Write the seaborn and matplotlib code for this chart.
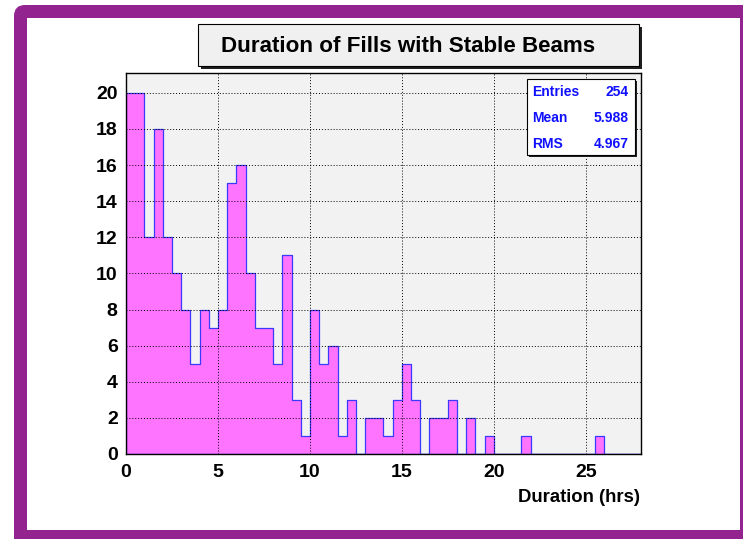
import numpy as np
import pandas as pd
import matplotlib
matplotlib.use("Agg")
import matplotlib.pyplot as plt
import seaborn as sns
from matplotlib.patches import FancyBboxPatch, Rectangle
from matplotlib.ticker import MultipleLocator
from matplotlib.transforms import IdentityTransform

# ---- data ----
bin_width = 0.5
x_max = 28
counts = [20, 20, 12, 18, 12, 10, 8, 5, 8, 7,
          8, 15, 16, 10, 7, 7, 5, 11, 3, 1,
          8, 5, 6, 1, 3, 0, 2, 2, 1, 3,
          5, 3, 0, 2, 2, 3, 0, 2, 0, 1,
          0, 0, 0, 1, 0, 0, 0, 0, 0, 0,
          0, 1, 0, 0, 0, 0]
stat_names = ["Entries", "Mean", "RMS"]
stat_values = ["254", "5.988", "4.967"]
title = "Duration of Fills with Stable Beams"
xlabel = "Duration (hrs)"
x_ticks = [0, 5, 10, 15, 20, 25]
y_ticks = [0, 2, 4, 6, 8, 10, 12, 14, 16, 18, 20]

centers = [bin_width * i + bin_width / 2 for i in range(len(counts))]
df = pd.DataFrame({"duration": centers, "count": counts})

W, H = 743, 539

sns.set_theme(style="white")
plt.rcParams['font.family'] = ['Liberation Sans', 'DejaVu Sans']
plt.rcParams['font.weight'] = 'bold'

fig = plt.figure(figsize=(W / 100, H / 100), dpi=100)
fig.patch.set_facecolor("white")


def fx(x):
    return x / W


def fy(y):
    return 1 - y / H


# purple frame: filled rounded shape with white inner panel
outer = FancyBboxPatch((14, H - 570), 780, 565,
                       boxstyle="round,pad=0,rounding_size=11",
                       transform=IdentityTransform(), facecolor="#93238f",
                       edgecolor="none", zorder=0)
fig.add_artist(outer)
inner = Rectangle((27, H - 530), 740 - 27, 530 - 18,
                  transform=IdentityTransform(), facecolor="white",
                  edgecolor="none", zorder=0.5)
fig.add_artist(inner)

ax = fig.add_axes([fx(126), fy(454), fx(641) - fx(126), fy(73) - fy(454)])
ax.set_facecolor("#f2f2f2")
ax.set_zorder(2)

sns.histplot(data=df, x="duration", weights="count",
             binwidth=bin_width, binrange=(0, x_max),
             element="step", fill=True, color="#ff74ff",
             facecolor="#ff74ff", edgecolor="#3a3aff", linewidth=0.9,
             alpha=1, ax=ax)

ax.set_xlim(0, x_max)
ax.set_ylim(0, 21.1)
ax.set_xlabel("")
ax.set_ylabel("")
ax.set_xticks(x_ticks)
ax.set_yticks(y_ticks)
ax.xaxis.set_minor_locator(MultipleLocator(1))
ax.yaxis.set_minor_locator(MultipleLocator(0.4))
ax.tick_params(axis="both", which="both", direction="in", top=False, right=False,
               color="black", labelsize=14, labelcolor="black")
ax.tick_params(axis="x", which="major", length=9, width=1, pad=7)
ax.tick_params(axis="x", which="minor", length=5, width=1)
ax.tick_params(axis="y", which="major", length=11, width=1, pad=6)
ax.tick_params(axis="y", which="minor", length=6, width=1)
for lab in ax.get_xticklabels() + ax.get_yticklabels():
    lab.set_fontweight("bold")

ax.set_axisbelow(False)
ax.grid(True, which="major", linestyle=(0, (1, 2)), color="black", linewidth=0.7)
for s in ax.spines.values():
    s.set_color("black")
    s.set_linewidth(1.0)
    s.set_zorder(5)

# title box with shadow
tx0, ty0, tx1, ty1 = 198, 24, 639, 66
fig.add_artist(Rectangle((fx(tx0 + 3), fy(ty1 + 3)), fx(tx1 - tx0), fy(ty0) - fy(ty1),
                         transform=fig.transFigure, facecolor="#202020", edgecolor="none",
                         zorder=3))
fig.add_artist(Rectangle((fx(tx0), fy(ty1)), fx(tx1 - tx0), fy(ty0) - fy(ty1),
                         transform=fig.transFigure, facecolor="#f0f0f0",
                         edgecolor="black", linewidth=0.8, zorder=3.1))
fig.text(fx(408), fy(46), title, ha="center", va="center",
         fontsize=16.1, fontweight="bold", color="black", zorder=3.2)

# stats box with shadow
sx0, sy0, sx1, sy1 = 527, 79, 635, 155
fig.add_artist(Rectangle((fx(sx0 + 2), fy(sy1 + 2)), fx(sx1 - sx0), fy(sy0) - fy(sy1),
                         transform=fig.transFigure, facecolor="#202020", edgecolor="none",
                         zorder=10))
fig.add_artist(Rectangle((fx(sx0), fy(sy1)), fx(sx1 - sx0), fy(sy0) - fy(sy1),
                         transform=fig.transFigure, facecolor="white",
                         edgecolor="black", linewidth=0.8, zorder=11))
for i, (n, v) in enumerate(zip(stat_names, stat_values)):
    yy = 92 + 26 * i
    fig.text(fx(532), fy(yy), n, ha="left", va="center", fontsize=10,
             fontweight="bold", color="#1010ff", zorder=12)
    fig.text(fx(629), fy(yy), v, ha="right", va="center", fontsize=10,
             fontweight="bold", color="#1010ff", zorder=12)

# x axis label
fig.text(fx(640), fy(498), xlabel, ha="right", va="center", fontsize=13.3,
         fontweight="bold", color="black", zorder=3)

fig.savefig("out.png", dpi=100)
